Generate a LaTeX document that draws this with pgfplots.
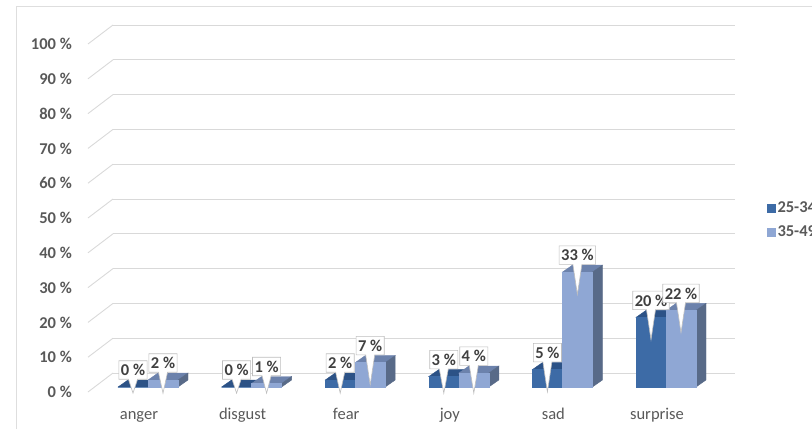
\documentclass[border=0pt]{standalone}
\usepackage{fontspec}
\setmainfont{Carlito}
\usepackage{pgfplots}
\pgfplotsset{compat=1.18}
\usepackage{pgfplotstable}
\usetikzlibrary{shapes.callouts}

\definecolor{darkF}{RGB}{61,107,166}
\definecolor{darkT}{RGB}{44,82,134}
\definecolor{darkS}{RGB}{40,70,112}
\definecolor{lightF}{RGB}{143,167,212}
\definecolor{lightT}{RGB}{108,130,172}
\definecolor{lightS}{RGB}{88,106,136}
\definecolor{gridcol}{RGB}{217,217,217}
\definecolor{tickcol}{RGB}{89,89,89}
\definecolor{lbltext}{RGB}{64,64,64}
\definecolor{lblborder}{RGB}{190,190,190}
\definecolor{framecol}{RGB}{222,222,222}

% share of answers per emotion and age group (percent)
\pgfplotstableread{
cat a b
0 0 2
1 0 1
2 2 7
3 3 4
4 5 33
5 20 22
}\shares

\pgfdeclareplotmark{nothing}{}

% pt per percent on the bar axis (height 348pt for 100 %)
\newcommand\unitpt{3.48}

% a 3-D bar hanging below the data point: top face, side face, front face
\newcommand\drawprism[4]{%
  \pgfmathsetlengthmacro\barh{\val*\unitpt}%
  \fill[#4] (#1,0pt) -- ++(30pt,0pt) -- ++(10pt,7pt) -- ++(-30pt,0pt) -- cycle;
  \fill[#3] ({#1+30pt},0pt) -- ++(10pt,7pt) -- ++(0pt,-\barh) -- ++(-10pt,-7pt) -- cycle;
  \fill[#2] (#1,0pt) rectangle ++(30pt,-\barh);
}

% value callout: box above the bar, pointer reaching into the bar top
\tikzset{
  lbl/.style={rectangle callout, fill=white, draw=lblborder, line width=0.6pt,
    text=lbltext, font=\fontsize{16.5pt}{19pt}\selectfont\bfseries,
    inner xsep=2pt, inner ysep=3.5pt, anchor=center,
    callout pointer width=9pt},
}
\newcommand\drawlabel[1]{%
  \pgfmathsetlengthmacro\ptrlen{min(30,14+\val*\unitpt)}%
  \node[lbl, callout relative pointer={(0pt,-\ptrlen)}]
    at (#1,17pt) {\pgfmathprintnumber[assume math mode=true,precision=0]{\val}~\%};
}

\begin{document}
\begin{tikzpicture}
\useasboundingbox (0,0) rectangle (812pt,429pt);
\clip (0,0) rectangle (812pt,429pt);

% chart frame
\draw[framecol, line width=0.8pt] (16pt,0pt) -- (16pt,423pt) -- (812pt,423pt);

% back wall with gridlines and the side-wall diagonals
\begin{axis}[
  at={(113pt,56pt)}, anchor=south west,
  scale only axis, width=622pt, height=348pt,
  xmin=0, xmax=1, ymin=0, ymax=100,
  clip=false,
  axis line style={draw=none}, tick style={draw=none},
  major tick length=0pt,
  xtick=\empty,
  ytick={0,10,...,100},
  yticklabels={0 \%,10 \%,20 \%,30 \%,40 \%,50 \%,60 \%,70 \%,80 \%,90 \%,100 \%},
  yticklabel style={anchor=east, inner sep=0pt, xshift=-41pt, yshift=-19pt,
    text=tickcol, font=\fontsize{16.5pt}{19pt}\selectfont\bfseries},
  ymajorgrids,
  grid style={gridcol, line width=0.9pt},
]
\pgfplotsinvokeforeach{0,10,20,30,40,50,60,70,80,90,100}{
  \draw[gridcol, line width=0.9pt] (axis cs:0,#1) -- ++(-25pt,-19pt);
}
\end{axis}

% bars, data labels, categories and legend
\begin{axis}[
  at={(96.2pt,42pt)}, anchor=south west,
  scale only axis, width=621.6pt, height=348pt,
  xmin=-0.5, xmax=5.5, ymin=0, ymax=100,
  clip=false,
  axis line style={draw=none}, tick style={draw=none},
  major tick length=0pt,
  ytick=\empty,
  xtick={0,...,5},
  xticklabels={anger,disgust,fear,joy,sad,surprise},
  xticklabel style={anchor=base, yshift=-32pt, xshift=-9pt,
    text=tickcol, font=\fontsize{16.5pt}{19pt}\selectfont},
  legend style={at={(1.079,0.48)}, anchor=west, draw=none, fill=none,
    inner sep=0pt, row sep=8pt, text=tickcol,
    font=\fontsize{16.5pt}{19pt}\selectfont\bfseries},
  legend cell align=left,
  every axis plot/.append style={forget plot, scatter, only marks, mark=nothing,
    visualization depends on={rawy \as \val},
    scatter/@post marker code/.code={}},
]
% bars
\addplot[scatter/@pre marker code/.code={\drawprism{-30pt}{darkF}{darkS}{darkT}}]
  table[x=cat, y=a] {\shares};
\addplot[scatter/@pre marker code/.code={\drawprism{0pt}{lightF}{lightS}{lightT}}]
  table[x=cat, y=b] {\shares};
% value callouts on top of all bars
\addplot[scatter/@pre marker code/.code={\drawlabel{-15pt}}]
  table[x=cat, y=a] {\shares};
\addplot[scatter/@pre marker code/.code={\drawlabel{15pt}}]
  table[x=cat, y=b] {\shares};

\addlegendimage{legend image code/.code={\fill[darkF] (0pt,-4pt) rectangle (8pt,4pt);}}
\addlegendentry{25-34}
\addlegendimage{legend image code/.code={\fill[lightF] (0pt,-4pt) rectangle (8pt,4pt);}}
\addlegendentry{35-49}
\end{axis}
\end{tikzpicture}
\end{document}
